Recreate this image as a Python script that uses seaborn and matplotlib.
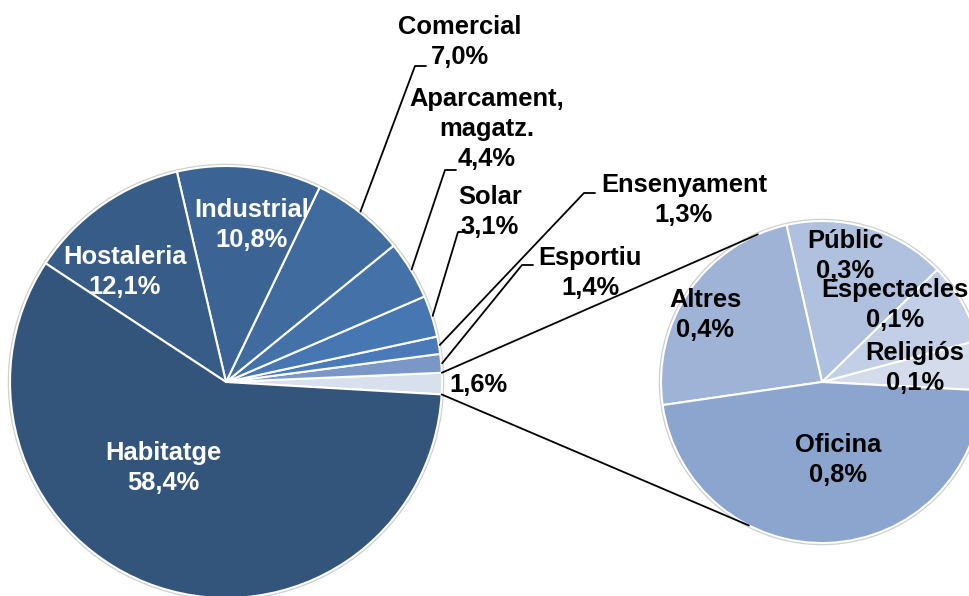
import matplotlib
matplotlib.use("Agg")
import matplotlib.pyplot as plt
import seaborn as sns
import numpy as np

# main pie, counterclockwise starting from the right
main_labels = ["", "Esportiu", "Ensenyament", "Solar", "Aparcament,\nmagatz.",
               "Comercial", "Industrial", "Hostaleria", "Habitatge"]
main_values = [1.6, 1.4, 1.3, 3.1, 4.4, 7.0, 10.8, 12.1, 58.4]
main_pct = ["1,6%", "1,4%", "1,3%", "3,1%", "4,4%", "7,0%", "10,8%", "12,1%", "58,4%"]

# breakdown of the 1,6% slice
sub_labels = ["Religiós", "Espectacles", "Públic", "Altres", "Oficina"]
sub_values = [0.08, 0.13, 0.26, 0.38, 0.75]
sub_pct = ["0,1%", "0,1%", "0,3%", "0,4%", "0,8%"]

main_colors = sns.color_palette(["#D9E0ED", "#7A97C8", "#4A7BB8", "#4777B2", "#4371A8",
                                 "#3F6B9E", "#3B6494", "#385C88", "#34557B"])
sub_colors = sns.color_palette(["#D4DCEC", "#C2CFE6", "#AFC1DF", "#9FB3D6", "#8BA5CE"])

sns.set_theme(style="white")
plt.rcParams['font.family'] = ['Liberation Sans', 'DejaVu Sans']

W, H = 969, 596
def P(x, y):
    # image pixel coords -> data coords
    return (x, H - y)

fig = plt.figure(figsize=(9.69, 5.96), dpi=100)
ax = fig.add_axes([0, 0, 1, 1])

main_c, main_r = P(226, 382), 216
sub_c, sub_r = P(822, 382), 161

wedges, _ = ax.pie(main_values, colors=main_colors, startangle=-3.3, counterclock=True,
                   center=main_c, radius=main_r,
                   wedgeprops=dict(edgecolor="white", linewidth=1.5))
sub_wedges, _ = ax.pie(sub_values, colors=sub_colors, startangle=-3, counterclock=True,
                       center=sub_c, radius=sub_r,
                       wedgeprops=dict(edgecolor="white", linewidth=1.5))

for c, r in [(main_c, main_r), (sub_c, sub_r)]:
    ax.add_patch(plt.Circle(c, r + 1.2, fill=False, edgecolor="#cfcfcf", lw=1.5, zorder=0.5))

fs = 18.4
txt = dict(fontsize=fs, fontweight="bold", ha="center", va="center", linespacing=1.32)

# labels inside the main pie (white)
inside = {"Habitatge": (163, 468), "Hostaleria": (125, 272), "Industrial": (252, 225)}
# labels outside with leader lines: text position, elbow
outside = {
    "Comercial": ((460, 42), (415, 66)),
    "Aparcament,\nmagatz.": ((487, 129), (445, 170)),
    "Solar": ((490, 212), (458, 232)),
    "Ensenyament": ((684, 200), (584, 193)),
    "Esportiu": ((590, 273), (522, 265)),
}

for w, lab, pct in zip(wedges, main_labels, main_pct):
    if lab in inside:
        ax.text(*P(*inside[lab]), f"{lab}\n{pct}", color="white", **txt)
    elif lab in outside:
        tpos, elbow = outside[lab]
        ax.text(*P(*tpos), f"{lab}\n{pct}", color="black", **txt)
        mid = np.deg2rad((w.theta1 + w.theta2) / 2)
        sx = main_c[0] + (main_r + 1) * np.cos(mid)
        sy = main_c[1] + (main_r + 1) * np.sin(mid)
        ex, ey = P(*elbow)
        ax.plot([sx, ex, ex + 11], [sy, ey, ey], color="black", lw=1.3)
    else:
        ax.text(*P(478, 385), pct, color="black", **txt)

# connector lines between pies
other = wedges[0]
for th_main, th_sub in [(other.theta2, 113.5), (other.theta1, 243)]:
    a, b = np.deg2rad(th_main), np.deg2rad(th_sub)
    ax.plot([main_c[0] + main_r * np.cos(a), sub_c[0] + sub_r * np.cos(b)],
            [main_c[1] + main_r * np.sin(a), sub_c[1] + sub_r * np.sin(b)],
            color="black", lw=1.3)

sub_pos = {"Públic": (845, 256), "Espectacles": (895, 305), "Religiós": (915, 368),
           "Altres": (705, 315), "Oficina": (838, 460)}
for lab in ["Oficina", "Altres", "Públic", "Espectacles", "Religiós"]:
    i = sub_labels.index(lab)
    ax.text(*P(*sub_pos[lab]), f"{lab}\n{sub_pct[i]}", color="black", **txt)

ax.set_xlim(0, W)
ax.set_ylim(0, H)
ax.set_aspect("equal")
ax.axis("off")

fig.savefig("out.png", dpi=100)
